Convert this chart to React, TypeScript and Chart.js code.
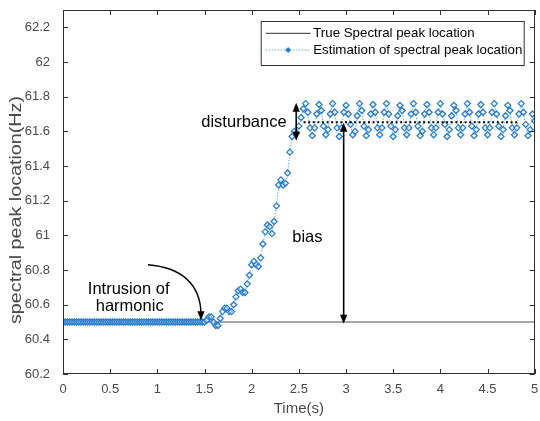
import React, { useEffect, useRef } from "react";
import { Chart, registerables } from "chart.js";

Chart.register(...registerables);

// ---------- data ----------
const X_TICKS = [0, 0.5, 1, 1.5, 2, 2.5, 3, 3.5, 4, 4.5, 5];
const X_TICK_LABELS = ["0", "0.5", "1", "1.5", "2", "2.5", "3", "3.5", "4", "4.5", "5"];
const Y_TICKS = [60.2, 60.4, 60.6, 60.8, 61, 61.2, 61.4, 61.6, 61.8, 62, 62.2];
const Y_TICK_LABELS = ["60.2", "60.4", "60.6", "60.8", "61", "61.2", "61.4", "61.6", "61.8", "62", "62.2"];
const X_MIN = 0;
const X_MAX = 5;
const Y_MIN = 60.2;
const Y_MAX = 62.3;

const TRUE_TIMES = [0, 5];
const TRUE_VALUES = [60.5, 60.5];

// estimation sampled every 1/42 s
const SAMPLE_STEP = 1 / 42;
const ESTIMATE = [
  60.5, 60.5, 60.5, 60.5, 60.5, 60.5, 60.5, 60.5, 60.5, 60.5, 60.5, 60.5, 60.5, 60.5, 60.5, 60.5,
  60.5, 60.5, 60.5, 60.5, 60.5, 60.5, 60.5, 60.5, 60.5, 60.5, 60.5, 60.5, 60.5, 60.5, 60.5, 60.5,
  60.5, 60.5, 60.5, 60.5, 60.5, 60.5, 60.5, 60.5, 60.5, 60.5, 60.5, 60.5, 60.5, 60.5, 60.5, 60.5,
  60.5, 60.5, 60.5, 60.5, 60.5, 60.5, 60.5, 60.5, 60.5, 60.5, 60.5, 60.5, 60.5, 60.5, 60.5, 60.5,
  60.51, 60.53, 60.53, 60.5, 60.48, 60.48, 60.52, 60.56, 60.58, 60.58, 60.56, 60.56,
  60.6, 60.645, 60.68, 60.69, 60.67, 60.67, 60.72, 60.77, 60.83, 60.85, 60.83, 60.82,
  60.87, 60.95, 61.02, 61.06, 61.05, 61.01, 61.08, 61.17, 61.29, 61.32, 61.29, 61.3,
  61.36, 61.48, 61.57, 61.6, 61.59, 61.63, 61.68, 61.73,
  61.76, 61.71, 61.62, 61.575, 61.62, 61.7,
  61.755, 61.72, 61.63, 61.58, 61.61, 61.7,
  61.76, 61.71, 61.62, 61.57, 61.62, 61.71,
  61.75, 61.7, 61.64, 61.58, 61.6, 61.69,
  61.76, 61.72, 61.63, 61.575, 61.61, 61.7,
  61.755, 61.71, 61.62, 61.58, 61.62, 61.71,
  61.76, 61.7, 61.63, 61.57, 61.61, 61.69,
  61.75, 61.72, 61.62, 61.58, 61.62, 61.7,
  61.76, 61.71, 61.63, 61.575, 61.6, 61.7,
  61.755, 61.71, 61.62, 61.58, 61.62, 61.71,
  61.76, 61.7, 61.64, 61.57, 61.61, 61.69,
  61.75, 61.72, 61.62, 61.58, 61.62, 61.7,
  61.76, 61.71, 61.63, 61.575, 61.61, 61.7,
  61.755, 61.71, 61.62, 61.58, 61.62, 61.71,
  61.76, 61.7, 61.63, 61.57, 61.61, 61.69,
  61.75, 61.72, 61.62, 61.58, 61.62, 61.7,
  61.76, 61.71, 61.64, 61.575, 61.61, 61.7,
  61.66,
];
const ESTIMATE_TIMES = ESTIMATE.map((_, i) => i * SAMPLE_STEP);

// annotations (data coordinates)
const MEAN_LINE = { from: 2.55, to: 4.82, level: 61.652 };
const DISTURBANCE_ARROW = { t: 2.472, top: 61.765, bottom: 61.545 };
const BIAS_ARROW = { t: 2.975, top: 61.65, bottom: 60.49 };
const INTRUSION_ARROW = {
  start: [0.9, 60.83],
  cp1: [1.25, 60.815],
  cp2: [1.46, 60.72],
  end: [1.463, 60.51],
};
const TEXT_DISTURBANCE = { t: 2.37, v: 61.652, text: "disturbance" };
const TEXT_BIAS = { t: 2.43, v: 60.99, text: "bias" };
const TEXT_INTRUSION_1 = { t: 0.696, v: 60.69, text: "Intrusion of" };
const TEXT_INTRUSION_2 = { t: 0.707, v: 60.587, text: "harmonic" };

const LEGEND_LABELS = ["True Spectral peak location", "Estimation of spectral peak location"];
const X_TITLE = "Time(s)";
const Y_TITLE = "spectral peak location(Hz)";

const FONT = '"Liberation Sans", Arial, Helvetica, sans-serif';
const AXIS_COLOR = "#303030";
const TICK_TEXT = "#4a4a4a";
const EST_MARKER = "#2a7dcc";
const EST_LINE = "rgba(80,165,225,0.9)";
const TRUE_COLOR = "#555555";

function arrowHead(ctx: CanvasRenderingContext2D, x: number, y: number, ang: number, len = 9, half = 3.6) {
  ctx.save();
  ctx.translate(x, y);
  ctx.rotate(ang);
  ctx.beginPath();
  ctx.moveTo(0, 0);
  ctx.lineTo(-len, -half);
  ctx.lineTo(-len, half);
  ctx.closePath();
  ctx.fill();
  ctx.restore();
}

const decorPlugin = {
  id: "decor",
  afterDatasetsDraw(chart: any) {
    const ctx: CanvasRenderingContext2D = chart.ctx;
    const { left, right, top, bottom } = chart.chartArea;
    const xs = chart.scales.x;
    const ys = chart.scales.y;
    const px = (t: number) => xs.getPixelForValue(t);
    const py = (v: number) => ys.getPixelForValue(v);

    ctx.save();
    // box
    ctx.strokeStyle = AXIS_COLOR;
    ctx.lineWidth = 1;
    ctx.strokeRect(Math.round(left) + 0.5, Math.round(top) + 0.5, Math.round(right - left) - 1, Math.round(bottom - top) - 1);
    // ticks inward
    ctx.beginPath();
    X_TICKS.forEach((t) => {
      const x = Math.round(px(t)) + 0.5;
      ctx.moveTo(x, bottom);
      ctx.lineTo(x, bottom - 5);
      ctx.moveTo(x, top);
      ctx.lineTo(x, top + 5);
    });
    Y_TICKS.forEach((v) => {
      const y = Math.round(py(v)) + 0.5;
      ctx.moveTo(left, y);
      ctx.lineTo(left + 5, y);
      ctx.moveTo(right, y);
      ctx.lineTo(right - 5, y);
    });
    ctx.stroke();

    // mean dotted line
    ctx.strokeStyle = "#000";
    ctx.fillStyle = "#000";
    ctx.lineWidth = 2;
    ctx.setLineDash([2, 2.6]);
    ctx.beginPath();
    ctx.moveTo(px(MEAN_LINE.from), py(MEAN_LINE.level));
    ctx.lineTo(px(MEAN_LINE.to), py(MEAN_LINE.level));
    ctx.stroke();
    ctx.setLineDash([]);

    // double arrows
    const dbl = (a: { t: number; top: number; bottom: number }) => {
      const x = px(a.t);
      const y1 = py(a.top);
      const y2 = py(a.bottom);
      ctx.lineWidth = 1.6;
      ctx.beginPath();
      ctx.moveTo(x, y1 + 6);
      ctx.lineTo(x, y2 - 6);
      ctx.stroke();
      arrowHead(ctx, x, y1, -Math.PI / 2);
      arrowHead(ctx, x, y2, Math.PI / 2);
    };
    dbl(DISTURBANCE_ARROW);
    dbl(BIAS_ARROW);

    // curved arrow
    const s = INTRUSION_ARROW;
    const ex = px(s.end[0]);
    const ey = py(s.end[1]);
    const c2x = px(s.cp2[0]);
    const c2y = py(s.cp2[1]);
    ctx.lineWidth = 1.4;
    ctx.beginPath();
    ctx.moveTo(px(s.start[0]), py(s.start[1]));
    ctx.bezierCurveTo(px(s.cp1[0]), py(s.cp1[1]), c2x, c2y, ex, ey - 6);
    ctx.stroke();
    arrowHead(ctx, ex, ey, Math.atan2(ey - c2y, ex - c2x));

    // texts
    ctx.font = `16.5px ${FONT}`;
    ctx.textBaseline = "middle";
    ctx.textAlign = "right";
    ctx.fillText(TEXT_DISTURBANCE.text, px(TEXT_DISTURBANCE.t), py(TEXT_DISTURBANCE.v));
    ctx.textAlign = "left";
    ctx.fillText(TEXT_BIAS.text, px(TEXT_BIAS.t), py(TEXT_BIAS.v));
    ctx.font = `16.5px ${FONT}`;
    ctx.textAlign = "center";
    ctx.fillText(TEXT_INTRUSION_1.text, px(TEXT_INTRUSION_1.t), py(TEXT_INTRUSION_1.v));
    ctx.fillText(TEXT_INTRUSION_2.text, px(TEXT_INTRUSION_2.t), py(TEXT_INTRUSION_2.v));

    // legend
    const lx0 = right - 273.5;
    const lx1 = right - 10.5;
    const ly0 = top + 11.5;
    const ly1 = top + 55.5;
    ctx.fillStyle = "#fff";
    ctx.fillRect(lx0, ly0, lx1 - lx0, ly1 - ly0);
    ctx.strokeStyle = AXIS_COLOR;
    ctx.lineWidth = 1;
    ctx.strokeRect(lx0, ly0, lx1 - lx0, ly1 - ly0);
    const row1 = ly0 + 11.8;
    const row2 = ly0 + 28.6;
    const sx0 = lx0 + 4.5;
    const sx1 = lx0 + 49.5;
    ctx.strokeStyle = "#333";
    ctx.beginPath();
    ctx.moveTo(sx0, row1);
    ctx.lineTo(sx1, row1);
    ctx.stroke();
    ctx.strokeStyle = EST_LINE;
    ctx.setLineDash([1.5, 1.5]);
    ctx.beginPath();
    ctx.moveTo(sx0, row2);
    ctx.lineTo(sx1, row2);
    ctx.stroke();
    ctx.setLineDash([]);
    const mx = (sx0 + sx1) / 2;
    ctx.fillStyle = EST_MARKER;
    ctx.beginPath();
    ctx.moveTo(mx, row2 - 3);
    ctx.lineTo(mx + 3, row2);
    ctx.lineTo(mx, row2 + 3);
    ctx.lineTo(mx - 3, row2);
    ctx.closePath();
    ctx.fill();
    ctx.fillStyle = "#000";
    ctx.font = `13.3px ${FONT}`;
    ctx.textAlign = "left";
    ctx.fillText(LEGEND_LABELS[0], sx1 + 2.5, row1);
    ctx.fillText(LEGEND_LABELS[1], sx1 + 2.5, row2);

    // axis titles
    ctx.fillStyle = TICK_TEXT;
    ctx.font = `15px ${FONT}`;
    ctx.textAlign = "center";
    ctx.fillText(X_TITLE, (left + right) / 2, 409);
    ctx.save();
    ctx.translate(16.5, 210);
    ctx.rotate(-Math.PI / 2);
    ctx.font = `16px ${FONT}`;
    const w = ctx.measureText(Y_TITLE).width;
    ctx.scale(228 / w, 1);
    ctx.fillText(Y_TITLE, 0, 0);
    ctx.restore();

    ctx.restore();
  },
};

export default function App() {
  const ref = useRef<HTMLCanvasElement | null>(null);
  useEffect(() => {
    if (!ref.current) return;
    const chart = new Chart(ref.current, {
      type: "line",
      data: {
        datasets: [
          {
            label: LEGEND_LABELS[1],
            data: ESTIMATE.map((v, i) => ({ x: ESTIMATE_TIMES[i], y: v })),
            borderColor: EST_LINE,
            borderWidth: 1,
            borderDash: [1.5, 1.5],
            pointStyle: "rectRot",
            pointRadius: 3,
            pointBorderColor: EST_MARKER,
            pointBackgroundColor: "rgba(255,255,255,0.5)",
            pointBorderWidth: 1.3,
            tension: 0,
            order: 1,
          } as any,
          {
            label: LEGEND_LABELS[0],
            data: TRUE_VALUES.map((v, i) => ({ x: TRUE_TIMES[i], y: v })),
            borderColor: TRUE_COLOR,
            borderWidth: 1.2,
            pointRadius: 0,
            order: 2,
          } as any,
        ],
      },
      options: {
        animation: false,
        responsive: false,
        maintainAspectRatio: false,
        layout: { padding: { top: 10, right: 3, left: 0, bottom: 0 } },
        plugins: { legend: { display: false }, tooltip: { enabled: false } },
        scales: {
          x: {
            type: "linear",
            min: X_MIN,
            max: X_MAX,
            grid: { display: false, drawTicks: false },
            border: { display: false },
            ticks: {
              color: TICK_TEXT,
              font: { size: 13, family: FONT },
              padding: 8,
              maxRotation: 0,
              autoSkip: false,
              callback: (_v: any, i: number) => X_TICK_LABELS[i],
            },
            afterBuildTicks: (s: any) => {
              s.ticks = X_TICKS.map((v) => ({ value: v }));
            },
            afterFit: (s: any) => {
              s.height = 47;
              s.paddingLeft = 0;
              s.paddingRight = 0;
            },
          },
          y: {
            type: "linear",
            min: Y_MIN,
            max: Y_MAX,
            grid: { display: false, drawTicks: false },
            border: { display: false },
            ticks: {
              color: TICK_TEXT,
              font: { size: 13, family: FONT },
              padding: 13,
              autoSkip: false,
              callback: (_v: any, i: number) => Y_TICK_LABELS[i],
            },
            afterBuildTicks: (s: any) => {
              s.ticks = Y_TICKS.map((v) => ({ value: v }));
            },
            afterFit: (s: any) => {
              s.width = 63;
              s.paddingTop = 0;
              s.paddingBottom = 0;
            },
          },
        },
      } as any,
      plugins: [decorPlugin],
    });
    return () => chart.destroy();
  }, []);
  return (
    <canvas
      ref={ref}
      width={540}
      height={421}
      style={{ position: "absolute", left: 0, top: 0, background: "#fff" }}
    />
  );
}
